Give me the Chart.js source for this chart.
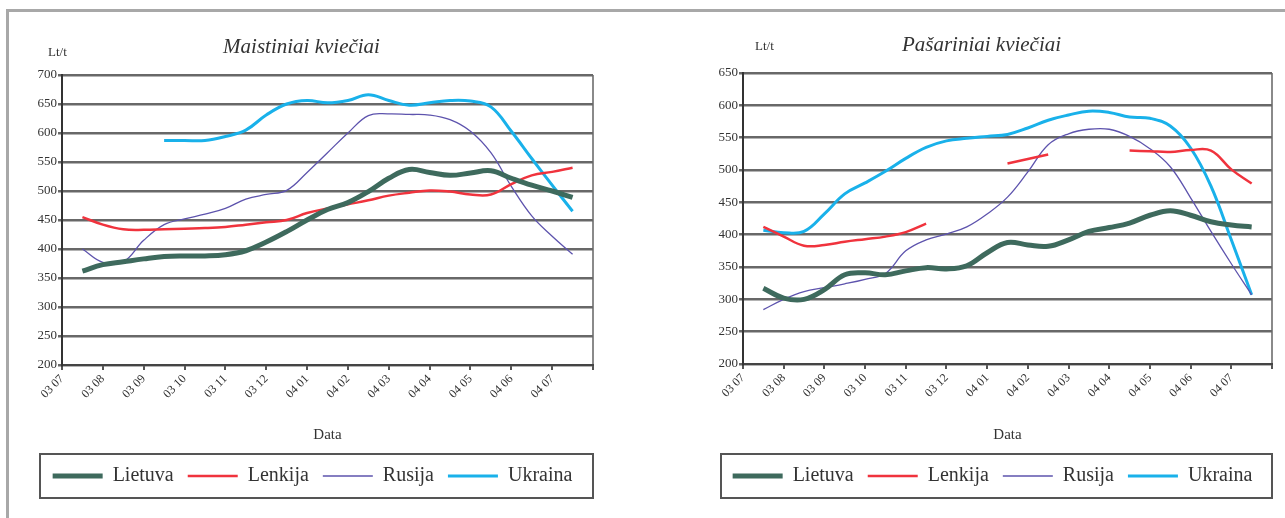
<!DOCTYPE html>
<html>
<head>
<meta charset="utf-8">
<script src="https://cdn.jsdelivr.net/npm/chart.js@4.4.1/dist/chart.umd.min.js"></script>
<style>
  body { margin: 0; background: #fff; width: 1285px; height: 518px; overflow: hidden; position: relative; }
  .frame { position: absolute; left: 6px; top: 9px; width: 1300px; height: 530px; border-top: 3px solid #a8a8a8; border-left: 3px solid #a8a8a8; }
  canvas { position: absolute; top: 0; }
</style>
</head>
<body>
<div class="frame"></div>
<canvas id="food" width="640" height="518" style="left:0"></canvas>
<canvas id="feed" width="645" height="518" style="left:640px"></canvas>
<script>
// month labels on the x axis, and half-month positions of the readings
const months = ['03 07', '03 08', '03 09', '03 10', '03 11', '03 12', '04 01', '04 02', '04 03', '04 04', '04 05', '04 06', '04 07'];
const positions = [0.5, 1, 1.5, 2, 2.5, 3, 3.5, 4, 4.5, 5, 5.5, 6, 6.5, 7, 7.5, 8, 8.5, 9, 9.5, 10, 10.5, 11, 11.5, 12, 12.5];

// Maistiniai kviečiai, Lt/t
const foodLietuva = [362, 373, 378, 383, 387, 388, 388, 390, 397, 412, 430, 450, 468, 480, 499, 522, 537, 532, 527, 531, 535, 522, 510, 500, 489];
const foodLenkija = [455, 442, 434, 433, 434, 435, 436, 438, 442, 446, 450, 462, 470, 477, 484, 492, 497, 501, 499, 494, 494, 512, 527, 533, 540];
const foodRusija = [400, 377, 378, 415, 442, 452, 460, 470, 486, 494, 501, 532, 566, 600, 630, 633, 632, 631, 623, 603, 566, 508, 457, 422, 391];
const foodUkraina = [null, null, null, null, 587, 587, 587, 594, 605, 631, 650, 656, 652, 656, 666, 656, 648, 652, 656, 655, 645, 603, 556, 510, 465];

// Pašariniai kviečiai, Lt/t
const feedLietuva = [317, 302, 300, 315, 338, 341, 338, 344, 349, 347, 352, 372, 388, 384, 382, 392, 405, 411, 418, 430, 437, 430, 420, 415, 412];
const feedLenkija = [412, 397, 383, 384, 389, 393, 397, 404, 417, null, null, null, 510, 517, 524, null, null, null, 530, 529, 528, 531, 530, 501, 479];
const feedRusija = [284, 300, 312, 318, 324, 331, 340, 375, 392, 401, 412, 432, 458, 497, 539, 556, 563, 563, 552, 533, 505, 457, 405, 355, 307];
const feedUkraina = [407, 403, 405, 432, 463, 480, 498, 518, 535, 545, 549, 552, 555, 565, 577, 585, 591, 589, 582, 580, 568, 534, 475, 392, 307];

const serif = '"Liberation Serif", "Times New Roman", serif';

const decorations = {
  id: 'decorations',
  afterDraw(chart, args, opts) {
    const { ctx, chartArea, legend } = chart;
    ctx.save();
    ctx.fillStyle = '#333';
    ctx.textBaseline = 'middle';
    ctx.textAlign = 'center';
    ctx.font = 'italic 21px ' + serif;
    ctx.fillText(opts.title, (chartArea.left + chartArea.right) / 2 - 26, chartArea.top - 28);
    ctx.textAlign = 'left';
    ctx.font = '13px ' + serif;
    ctx.fillText('Lt/t', chartArea.left + opts.unitDx, chartArea.top + opts.unitDy);
    // frame round the legend
    const cy = legend.top + 24;
    ctx.strokeStyle = '#555';
    ctx.lineWidth = 2;
    ctx.strokeRect(chartArea.left - 22, cy - 22, chartArea.right - chartArea.left + 22, 44);
    ctx.restore();
  }
};

function series(values) {
  return positions.map((x, i) => ({ x: x, y: values[i] }));
}

function makeChart(id, title, lists, yMax, pad, xHeight, unitDx, unitDy) {
  return new Chart(document.getElementById(id), {
    type: 'line',
    data: {
      datasets: [
        { label: 'Lietuva', data: series(lists[0]), borderColor: '#3e6a5d', borderWidth: 5 },
        { label: 'Lenkija', data: series(lists[1]), borderColor: '#f0333d', borderWidth: 2.5 },
        { label: 'Rusija', data: series(lists[2]), borderColor: '#5d53ad', borderWidth: 1.3 },
        { label: 'Ukraina', data: series(lists[3]), borderColor: '#19b1ea', borderWidth: 3 }
      ]
    },
    options: {
      responsive: false,
      animation: false,
      elements: { point: { radius: 0 }, line: { tension: 0.4, fill: false } },
      layout: { padding: pad },
      plugins: {
        legend: {
          position: 'bottom',
          labels: {
            usePointStyle: true,
            pointStyle: 'line',
            pointStyleWidth: 50,
            padding: 14,
            color: '#333',
            font: { family: serif, size: 20 }
          }
        },
        tooltip: { enabled: false },
        decorations: { title: title, unitDx: unitDx, unitDy: unitDy }
      },
      scales: {
        x: {
          type: 'linear',
          min: 0,
          max: 13,
          afterFit: (s) => { s.height = xHeight; },
          ticks: {
            stepSize: 1,
            autoSkip: false,
            minRotation: 45,
            maxRotation: 45,
            padding: 2,
            color: '#333',
            font: { family: serif, size: 12 },
            callback: (v) => months[v] || ''
          },
          grid: {
            color: (c) => (c.tick && c.tick.value === 13 ? '#8a8a8a' : 'rgba(0,0,0,0)'),
            lineWidth: 2,
            tickLength: 5,
            tickColor: '#555'
          },
          border: { color: '#444', width: 2 },
          title: {
            display: true,
            text: 'Data',
            color: '#333',
            font: { family: serif, size: 15 },
            padding: { top: 0, bottom: 8 }
          }
        },
        y: {
          min: 200,
          max: yMax,
          afterFit: (s) => { s.width = 30; },
          ticks: { stepSize: 50, padding: 1, color: '#333', font: { family: serif, size: 13 } },
          grid: { color: '#686868', lineWidth: 2.5, tickLength: 4, tickColor: '#686868' },
          border: { color: '#333', width: 2 }
        }
      }
    },
    plugins: [decorations]
  });
}

makeChart('food', 'Maistiniai kviečiai', [foodLietuva, foodLenkija, foodRusija, foodUkraina], 700,
  { left: 32, right: 47, top: 75, bottom: 22 }, 87, -14, -22);
makeChart('feed', 'Pašariniai kviečiai', [feedLietuva, feedLenkija, feedRusija, feedUkraina], 650,
  { left: 73, right: 13, top: 73, bottom: 22 }, 88, 12, -26);
</script>
</body>
</html>
